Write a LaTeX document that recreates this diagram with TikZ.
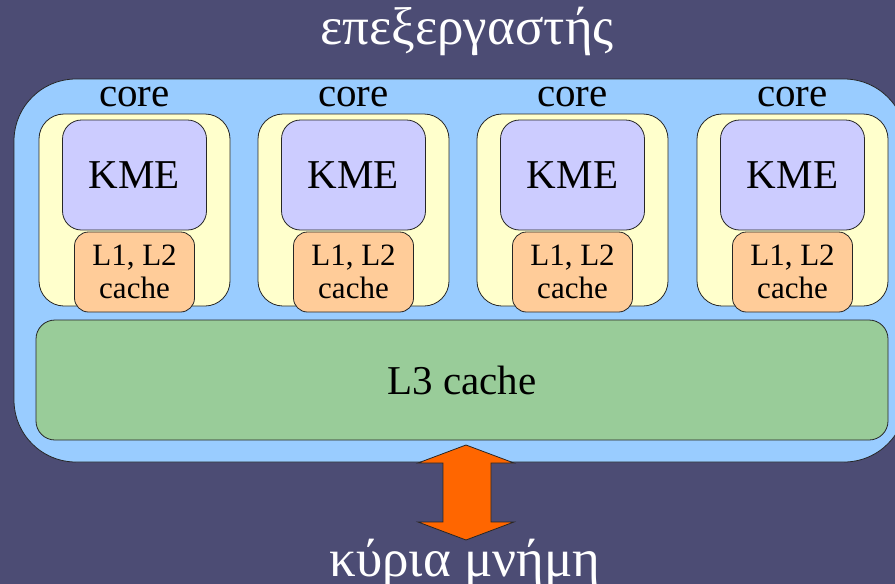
\documentclass[tikz,border=0pt]{standalone}
\usepackage{fontspec}
\setmainfont{Liberation Serif}
\definecolor{slide}{RGB}{76,76,116}
\definecolor{chip}{RGB}{153,204,255}
\definecolor{coreback}{RGB}{255,255,204}
\definecolor{kmeback}{RGB}{204,204,255}
\definecolor{lowcache}{RGB}{255,204,153}
\definecolor{lastcache}{RGB}{153,204,153}
\definecolor{busarrow}{RGB}{255,102,0}

\tikzset{
  box/.style={draw=black!85, line width=0.8pt, inner sep=0pt},
  bigtext/.style={font=\fontsize{41}{45}\selectfont},
  greektext/.style={white, font=\fontsize{53}{58}\selectfont},
  smalltext/.style={font=\fontsize{31}{33}\selectfont, align=center},
}

\begin{document}
\begin{tikzpicture}[x=1pt, y=-1pt]
% slide background
\fill[slide] (0,0) rectangle (895,584);
\clip (0,0) rectangle (895,584);
% processor
\node[box, fill=chip, rounded corners=62pt, minimum width=892pt, minimum height=383pt] (cpu) at (460,270.5) {};
\node[greektext, anchor=base] (title) at (467,44) {επεξεργαστής};
% four cores
\foreach \i/\x in {1/134.5, 2/353.5, 3/572.5, 4/792.5} {
  \node[box, fill=coreback, rounded corners=25pt, minimum width=191pt, minimum height=192pt] (core\i) at (\x,210) {};
  \node[bigtext, anchor=base] (corename\i) at (\x,106) {core};
  \node[box, fill=kmeback, rounded corners=19pt, minimum width=144pt, minimum height=110pt, bigtext] (kme\i) at (\x,175) {KME};
  \node[box, fill=lowcache, rounded corners=14pt, minimum width=120pt, minimum height=80pt, smalltext] (cache\i) at (\x,272) {L1, L2\\cache};
}
% shared cache
\node[box, fill=lastcache, rounded corners=19pt, minimum width=852pt, minimum height=120pt, bigtext] (lthree) at (462,380) {L3 cache};
% memory bus
\draw[box, fill=busarrow] (466,445) -- (514,463) -- (491,463) -- (491,522) -- (514,522)
  -- (466,540) -- (418,522) -- (443,522) -- (443,463) -- (418,463) -- cycle;
\node[greektext, anchor=base] (memory) at (465,576) {κύρια μνήμη};
\end{tikzpicture}
\end{document}
